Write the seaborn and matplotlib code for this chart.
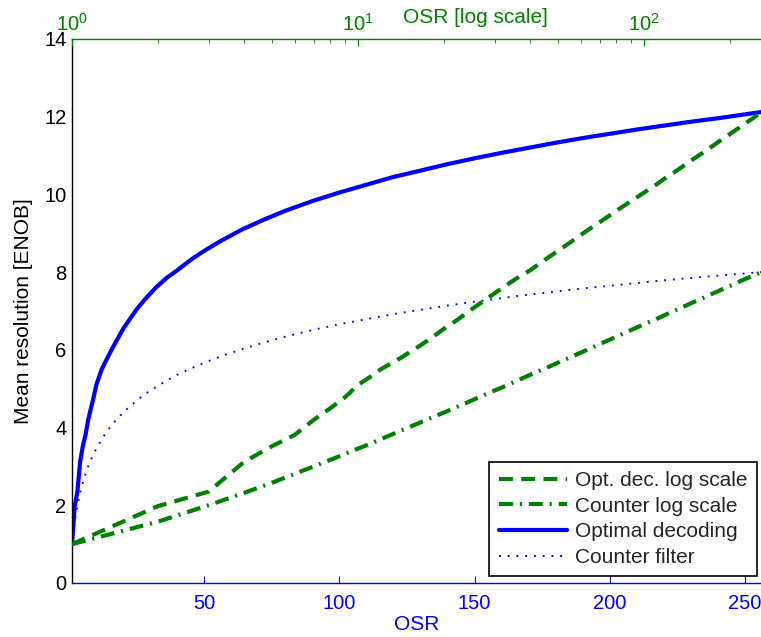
import matplotlib
matplotlib.use("Agg")
import matplotlib.pyplot as plt
import seaborn as sns
import pandas as pd

# ---- data ----
osr = [1, 2, 3, 4, 5, 6, 7, 8, 9, 10, 11, 12, 14, 16, 18, 20, 22, 25, 28,
       32, 36, 40, 45, 50, 56, 64, 72, 80, 90, 100, 110, 120, 128, 140, 150,
       160, 170, 180, 190, 200, 210, 220, 230, 240, 256]
enob_optimal = [1.00, 1.98, 2.35, 3.12, 3.52, 3.81, 4.20, 4.50, 4.78, 5.10,
                5.30, 5.50, 5.78, 6.05, 6.30, 6.55, 6.75, 7.05, 7.30,
                7.60, 7.85, 8.05, 8.32, 8.55, 8.80, 9.10, 9.35, 9.58, 9.83,
                10.05, 10.25, 10.45, 10.58, 10.78, 10.93,
                11.07, 11.20, 11.33, 11.45, 11.56, 11.67, 11.77, 11.87, 11.96, 12.12]
enob_counter = [1.00, 1.58, 2.00, 2.32, 2.58, 2.81, 3.00, 3.17, 3.32, 3.46,
                3.58, 3.70, 3.91, 4.09, 4.25, 4.39, 4.52, 4.70, 4.86,
                5.04, 5.21, 5.36, 5.52, 5.67, 5.83, 6.02, 6.19, 6.34, 6.51,
                6.66, 6.79, 6.92, 7.01, 7.14, 7.24,
                7.33, 7.42, 7.50, 7.58, 7.65, 7.72, 7.79, 7.85, 7.91, 8.00]
yticks = [0, 2, 4, 6, 8, 10, 12, 14]
xticks_lin = [50, 100, 150, 200, 250]
labels = ["Opt. dec. log scale", "Counter log scale", "Optimal decoding", "Counter filter"]

df = pd.DataFrame({"osr": osr, "opt": enob_optimal, "cnt": enob_counter})

sns.set_style("white")
plt.rcParams["font.family"] = ["Liberation Sans", "DejaVu Sans"]
plt.rcParams["lines.scale_dashes"] = False

GREEN = "#008000"
BLUE = "#0000FF"
FS = 14.5

fig = plt.figure(figsize=(7.61, 6.37), dpi=100)
ax = fig.add_axes([72 / 761, 54 / 637, 689 / 761, 544 / 637])
ax2 = ax.twiny()

# linear-axis (blue) curves
sns.lineplot(data=df, x="osr", y="opt", ax=ax, color=BLUE, lw=3.0,
             label=labels[2], legend=False, sort=False)
sns.lineplot(data=df, x="osr", y="cnt", ax=ax, color=BLUE, lw=1.4,
             linestyle=(0, (1.3, 5)), label=labels[3], legend=False, sort=False)

# log-axis (green) curves
sns.lineplot(data=df, x="osr", y="opt", ax=ax2, color=GREEN, lw=3.0,
             linestyle=(0, (10, 6)), label=labels[0], legend=False, sort=False)
sns.lineplot(data=df, x="osr", y="cnt", ax=ax2, color=GREEN, lw=3.0,
             linestyle=(0, (10, 5, 1.5, 5)), label=labels[1], legend=False, sort=False)

ax.set_xlim(1, 256)
ax.set_ylim(0, 14)
ax2.set_xscale("log")
ax2.set_xlim(1, 256)
ax2.set_ylim(0, 14)

ax.set_xticks(xticks_lin)
ax.set_yticks(yticks)
ax.tick_params(axis="x", direction="in", colors=BLUE, labelsize=FS, length=5, pad=8)
ax.tick_params(axis="y", direction="in", colors="black", labelsize=FS, length=5, pad=4)
ax2.tick_params(axis="x", which="major", direction="in", colors=GREEN, labelsize=FS, length=5, pad=3)
ax2.tick_params(axis="x", which="minor", direction="in", colors=GREEN, length=3)

for s in ["top", "right"]:
    ax.spines[s].set_visible(False)
ax.spines["bottom"].set_color(BLUE)
ax.spines["left"].set_color("black")
for s in ["bottom", "left", "right"]:
    ax2.spines[s].set_visible(False)
ax2.spines["top"].set_color(GREEN)
for sp in list(ax.spines.values()) + list(ax2.spines.values()):
    sp.set_linewidth(1.0)

ax.set_xlabel("OSR", color=BLUE, fontsize=15, labelpad=1)
ax.set_ylabel("Mean resolution [ENOB]", color="black", fontsize=15, labelpad=8)
ax2.set_xlabel("OSR [log scale]", color=GREEN, fontsize=15)
ax2.xaxis.set_label_coords(0.586, 1.03)

h2, l2 = ax2.get_legend_handles_labels()
h1, l1 = ax.get_legend_handles_labels()
leg = ax2.legend(h2 + h1, l2 + l1, loc="lower right", bbox_to_anchor=(0.9935, 0.012),
                 fontsize=15, frameon=True, fancybox=False, edgecolor="black",
                 framealpha=1, handlelength=3.3, handletextpad=0.35, borderpad=0.45,
                 labelspacing=0.32, borderaxespad=0)
leg.get_frame().set_linewidth(1.2)

fig.savefig("out.png", dpi=100)
